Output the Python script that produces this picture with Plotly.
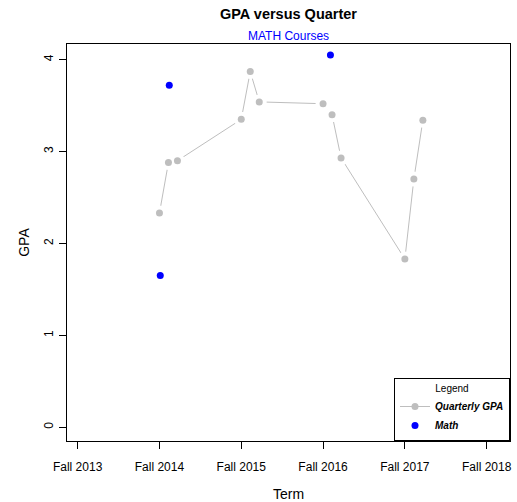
import plotly.graph_objects as go

# Quarterly GPA (terms placed at year + quarter offset; Fall = whole year)
quarter_x = [2014.00, 2014.11, 2014.22, 2015.00, 2015.11, 2015.22,
             2016.00, 2016.11, 2016.22, 2017.00, 2017.11, 2017.22]
quarter_gpa = [2.33, 2.88, 2.90, 3.35, 3.87, 3.54,
               3.52, 3.40, 2.93, 1.83, 2.70, 3.34]

# MATH course grades
math_x = [2014.01, 2014.12, 2016.09]
math_gpa = [1.65, 3.72, 4.05]

tick_years = [2013, 2014, 2015, 2016, 2017, 2018]
tick_labels = ["Fall %d" % y for y in tick_years]
gpa_ticks = [0, 1, 2, 3, 4]

FONT = "Liberation Sans, Arial, Helvetica, sans-serif"
GREY = "#BEBEBE"

fig = go.Figure()

# line + points (R type="b" look: white halo hides line near points)
fig.add_trace(go.Scatter(
    x=quarter_x, y=quarter_gpa, mode="lines+markers",
    name="<b><i>Quarterly GPA</i></b>",
    line=dict(color=GREY, width=1),
    marker=dict(color=GREY, size=7),
))
fig.add_trace(go.Scatter(
    x=quarter_x, y=quarter_gpa, mode="markers", showlegend=False,
    hoverinfo="skip", marker=dict(color="white", size=15),
))
fig.add_trace(go.Scatter(
    x=quarter_x, y=quarter_gpa, mode="markers", showlegend=False,
    marker=dict(color=GREY, size=7),
))
fig.add_trace(go.Scatter(
    x=math_x, y=math_gpa, mode="markers",
    name="<b><i>Math</i></b>",
    marker=dict(color="blue", size=7),
))

fig.update_layout(
    width=517, height=502,
    margin=dict(l=67, r=7, t=44, b=61, autoexpand=False),
    paper_bgcolor="white", plot_bgcolor="white",
    font=dict(family=FONT, size=12, color="black"),
    title=dict(text="<b>GPA versus Quarter</b>", font=dict(size=14.5),
               x=0.558, xanchor="center", y=1 - 14 / 502, yanchor="middle",
               xref="container", yref="container"),
    annotations=[dict(text="MATH Courses", x=0.5, xref="paper", y=1,
                      yref="paper", yshift=-1, yanchor="bottom",
                      showarrow=False, font=dict(size=12, color="blue"))],
    legend=dict(x=1, xanchor="right", y=0, yanchor="bottom",
                bgcolor="white", bordercolor="black", borderwidth=1,
                font=dict(size=10, family=FONT), itemwidth=30,
                tracegroupgap=0,
                title=dict(text="Legend", side="top center", font=dict(size=10))),
    xaxis=dict(range=[2012.87, 2018.285], tickvals=tick_years, ticktext=tick_labels,
               showgrid=False, zeroline=False, showline=True, mirror=True,
               linecolor="black", linewidth=1, ticks="outside", ticklen=7,
               tickcolor="black", ticklabelstandoff=8, automargin=False,
               title=dict(text="Term", standoff=23)),
    yaxis=dict(range=[-0.15, 4.17], tickvals=gpa_ticks, tickangle=-90,
               showgrid=False, zeroline=False, showline=True, mirror=True,
               linecolor="black", linewidth=1, ticks="outside", ticklen=7,
               tickcolor="black", ticklabelstandoff=1, automargin=False,
               title=dict(text="GPA", standoff=9)),
)

# page body has a default 8px margin; drop it so the figure fills the window
fig.write_html("out.html", config={"displayModeBar": False},
               post_script="document.body.style.margin='0';")
